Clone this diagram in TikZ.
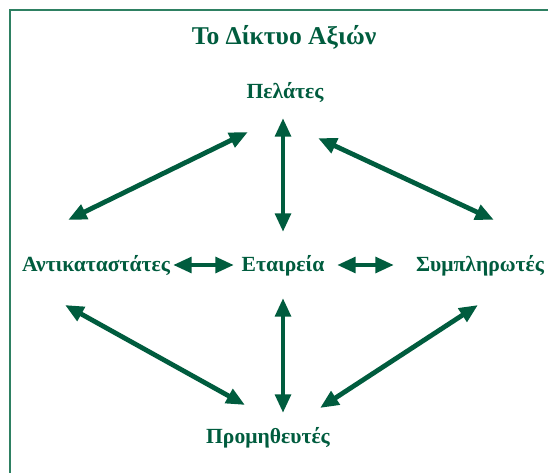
\documentclass[tikz,border=0pt]{standalone}
\usepackage{fontspec}
\setmainfont{Liberation Serif}
\usetikzlibrary{arrows.meta}
\definecolor{valgreen}{RGB}{0,92,62}
\definecolor{framegreen}{RGB}{46,128,98}
\tikzset{every picture/.style={line width=0.75pt}}
\tikzset{
  lbl/.style={inner sep=0.75pt, text=valgreen, font=\bfseries\fontsize{16.2}{19}\selectfont},
  link/.style={valgreen, line width=3.6pt, {Triangle[length=14pt,width=11.5pt]}-{Triangle[length=14pt,width=11.5pt]}}
}

\begin{document}
\begin{tikzpicture}[x=0.75pt,y=0.75pt,yscale=-1,xscale=1]
\useasboundingbox (0,0) rectangle (548,473);

%Frame lines
\draw [framegreen, line width=1.5pt] (10,473) -- (10,10) -- (548,10) ;

% Text Nodes
\node (title) at (284,37) [lbl, font=\bfseries\fontsize{19.2}{23}\selectfont] {Το Δίκτυο Αξιών};
\node (pel) at (285,93) [lbl] {Πελάτες};
\node (ant) at (96,266) [lbl] {Αντικαταστάτες};
\node (eta) at (283,266) [lbl] {Εταιρεία};
\node (sym) at (480,266) [lbl] {Συμπληρωτές};
\node (pro) at (268,438) [lbl] {Προμηθευτές};

% Arrow ends
\coordinate (antTop) at (68,220);
\coordinate (pelLeft) at (248,132);
\coordinate (pelBot) at (283,118);
\coordinate (etaTop) at (283,232);
\coordinate (pelRight) at (318,138);
\coordinate (symTop) at (494,220);
\coordinate (antRight) at (173,265);
\coordinate (etaLeft) at (234,265);
\coordinate (etaRight) at (337,265);
\coordinate (symLeft) at (394,265);
\coordinate (antBot) at (65,305);
\coordinate (proLeft) at (245,405);
\coordinate (etaBot) at (283,298);
\coordinate (proTop) at (283,413);
\coordinate (symBot) at (478,305);
\coordinate (proRight) at (320,408);

%Arrows
\draw [link] (antTop) -- (pelLeft) ;
\draw [link] (pelBot) -- (etaTop) ;
\draw [link] (pelRight) -- (symTop) ;
\draw [link] (antRight) -- (etaLeft) ;
\draw [link] (etaRight) -- (symLeft) ;
\draw [link] (antBot) -- (proLeft) ;
\draw [link] (etaBot) -- (proTop) ;
\draw [link] (symBot) -- (proRight) ;
\end{tikzpicture}
\end{document}
